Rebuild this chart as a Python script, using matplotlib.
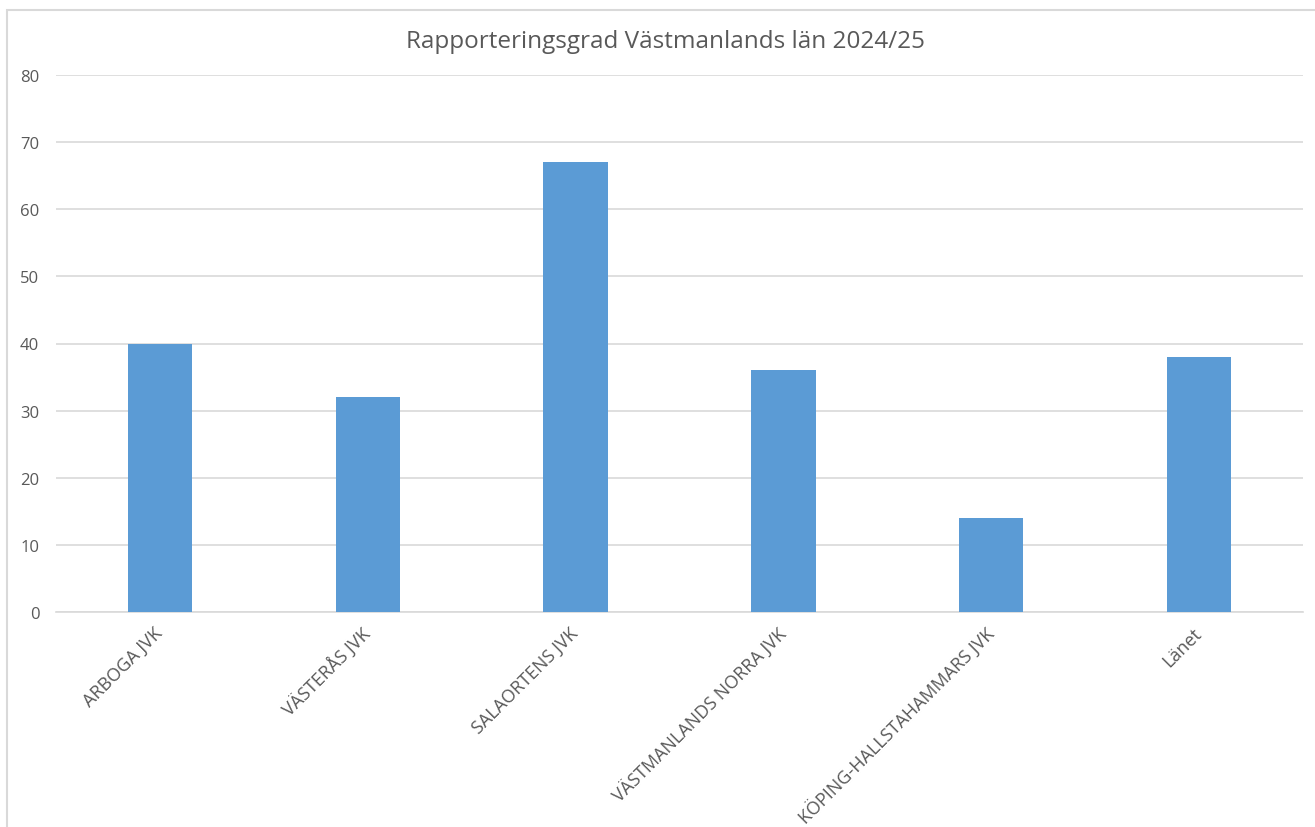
import matplotlib.pyplot as plt
from matplotlib.patches import Rectangle

categories = ["ARBOGA JVK", "VÄSTERÅS JVK", "SALAORTENS JVK", "VÄSTMANLANDS NORRA JVK",
              "KÖPING-HALLSTAHAMMARS JVK", "Länet"]
values = [40, 32, 67, 36, 14, 38]
y_ticks = [0, 10, 20, 30, 40, 50, 60, 70, 80]

grey = "#595959"
plt.rcParams["font.family"] = ["Open Sans", "DejaVu Sans"]

fig = plt.figure(figsize=(13.15, 8.28), dpi=100)
fig.patches.append(Rectangle((7 / 1315, -0.01), 1.0, 1 - 11 / 828 + 0.01, transform=fig.transFigure,
                             fill=False, edgecolor="#d9d9d9", linewidth=1.5))

ax = fig.add_axes([56 / 1315, 1 - 613 / 828, (1303 - 56) / 1315, (613 - 76) / 828])
x = range(len(categories))
ax.bar(x, values, width=0.31, color="#5b9bd5", zorder=3)

ax.set_xlim(-0.5, len(categories) - 0.5)
ax.set_ylim(0, 80)
ax.set_yticks(y_ticks)
ax.grid(axis="y", color="#d9d9d9", linewidth=1.2, zorder=0)
for s in ["top", "right", "left"]:
    ax.spines[s].set_visible(False)
ax.spines["bottom"].set_color("#d9d9d9")
ax.spines["bottom"].set_linewidth(1.2)
ax.tick_params(axis="both", length=0, colors=grey)
ax.tick_params(axis="y", pad=12, labelsize=12)
ax.set_xticks(list(x))
ax.set_xticklabels(categories, rotation=45, ha="right", rotation_mode="anchor", va="center")
ax.tick_params(axis="x", pad=13, labelsize=13)

fig.text(665 / 1315, 1 - 42 / 828, "Rapporteringsgrad Västmanlands län 2024/25",
         ha="center", va="center", fontsize=17.5, color=grey)

fig.savefig("out.png", dpi=100)
